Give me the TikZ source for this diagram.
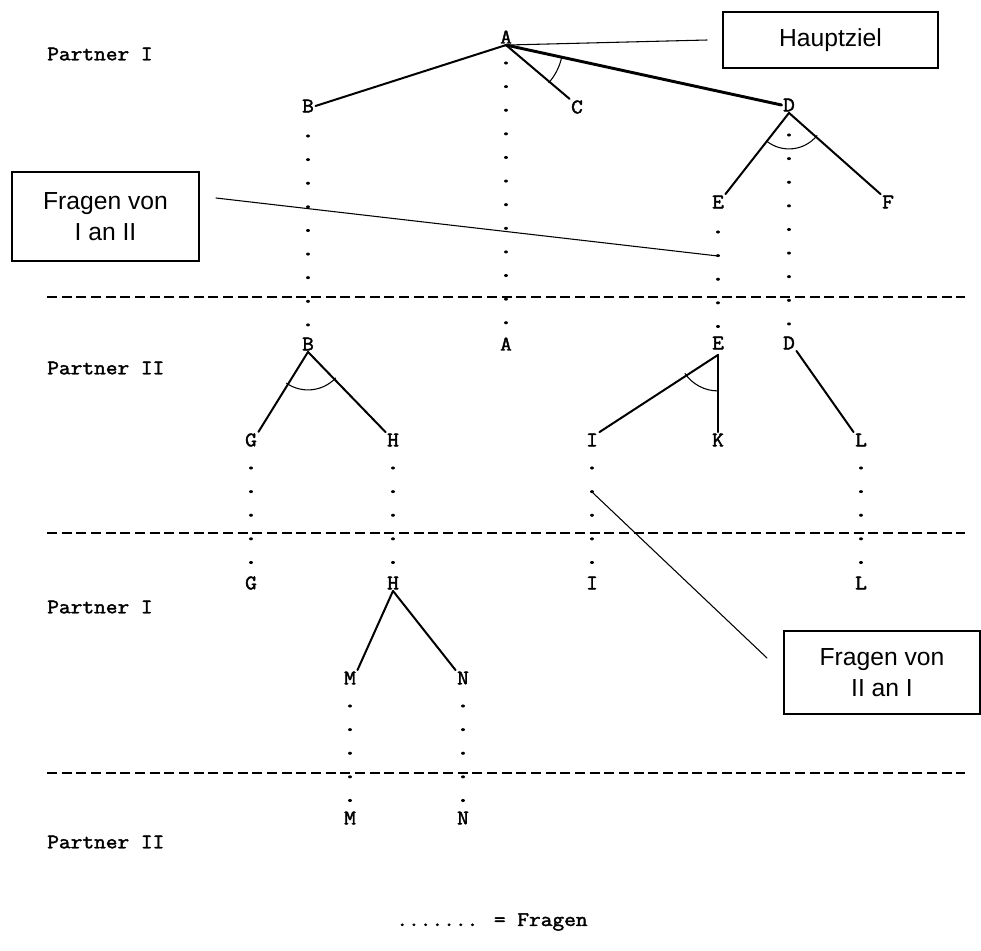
\documentclass[tikz,border=0pt]{standalone}
\usepackage{fontspec}
\setmainfont{Liberation Sans}
\newfontfamily\schreib[FakeStretch=1.1,FakeBold=2]{Latin Modern Mono}
\begin{document}
\begin{tikzpicture}[x=0.75pt,y=-0.75pt,line cap=round,
  buchst/.style={font=\schreib\fontsize{15.5}{15.5}\selectfont,inner sep=1pt},
  partner/.style={font=\schreib\fontsize{15.5}{15.5}\selectfont,anchor=west,inner sep=0pt},
  ast/.style={line width=1.5pt},
  hauptast/.style={line width=2.2pt},
  bogen/.style={line width=0.8pt},
  fragen/.style={line width=2.3pt,dash pattern=on 0.01pt off 17.7pt},
  ebene/.style={line width=1.1pt,line cap=butt,dash pattern=on 7.5pt off 3.5pt},
  kasten/.style={draw,line width=1.1pt,font=\fontsize{18.5}{23}\selectfont,align=center,inner sep=0pt},
  zeiger/.style={line width=0.8pt}]
\useasboundingbox (0,0) rectangle (981,950);
%\draw[step=50,very thin,color=gray] (0,0) grid (981,950);
% Ebenen
\node[partner] (p1) at (47,54) {Partner I};
\node[partner] (p2) at (47,368) {Partner II};
\node[partner] (p3) at (47,607) {Partner I};
\node[partner] (p4) at (47,842) {Partner II};
\draw[ebene] (47,297) -- (965,297);
\draw[ebene] (47,533) -- (965,533);
\draw[ebene] (47,773) -- (965,773);
% Partner I
\node[buchst] (A1) at (506,37) {A};
\node[buchst] (B1) at (308,106) {B};
\node[buchst] (C1) at (577,107) {C};
\node[buchst] (D1) at (789,105) {D};
\node[buchst] (E1) at (718,202) {E};
\node[buchst] (F1) at (888,202) {F};
\draw[ast] (A1.south) -- (B1.east);
\draw[ast] (A1.south) -- (C1.north west);
\draw[hauptast] (A1.south) -- (D1.west);
\draw[bogen] ([shift={(11.7:57)}]A1.south) arc (11.7:41.5:57);
\draw[ast] (D1.south) -- (E1.north east);
\draw[ast] (D1.south) -- (F1.north west);
\draw[bogen] ([shift={(39:36)}]D1.south) arc (39:129:36);
% Partner II
\node[buchst] (B2) at (308,344) {B};
\node[buchst] (A2) at (506,344) {A};
\node[buchst] (E2) at (718,343) {E};
\node[buchst] (D2) at (789,343) {D};
\node[buchst] (G2) at (251,440) {G};
\node[buchst] (H2) at (393,440) {H};
\node[buchst] (I2) at (592,440) {I};
\node[buchst] (K2) at (718,440) {K};
\node[buchst] (L2) at (861,440) {L};
\draw[ast] (B2.south) -- (G2.north east);
\draw[ast] (B2.south) -- (H2.north west);
\draw[bogen] ([shift={(43.5:38)}]B2.south) arc (43.5:124.6:38);
\draw[ast] ([yshift=-3]E2.south) -- (I2.north east);
\draw[ast] ([yshift=-3]E2.south) -- (K2.north);
\draw[bogen] ([shift={(90:40)}]E2.south) arc (90:145.6:40);
\draw[ast] (D2.south east) -- (L2.north west);
% Partner I
\node[buchst] (G3) at (251,583) {G};
\node[buchst] (H3) at (393,583) {H};
\node[buchst] (I3) at (592,583) {I};
\node[buchst] (L3) at (861,583) {L};
\node[buchst] (M3) at (350,678) {M};
\node[buchst] (N3) at (463,678) {N};
\draw[ast] (H3.south) -- (M3.north east);
\draw[ast] (H3.south) -- (N3.north west);
% Partner II
\node[buchst] (M4) at (350,818) {M};
\node[buchst] (N4) at (463,818) {N};
% Fragen
\draw[fragen,shorten <=19.5pt,shorten >=12pt] (A1.center) -- (A2.center);
\draw[fragen,shorten <=22.5pt,shorten >=12pt] (B1.center) -- (B2.center);
\draw[fragen,shorten <=22.5pt,shorten >=12pt] (D1.center) -- (D2.center);
\draw[fragen,shorten <=22.5pt,shorten >=12pt] (E1.center) -- (E2.center);
\draw[fragen,shorten <=21pt,shorten >=12pt] (G2.center) -- (G3.center);
\draw[fragen,shorten <=21pt,shorten >=12pt] (H2.center) -- (H3.center);
\draw[fragen,shorten <=21pt,shorten >=12pt] (I2.center) -- (I3.center);
\draw[fragen,shorten <=21pt,shorten >=12pt] (L2.center) -- (L3.center);
\draw[fragen,shorten <=21pt,shorten >=12pt] (M3.center) -- (M4.center);
\draw[fragen,shorten <=21pt,shorten >=12pt] (N3.center) -- (N4.center);
% Kaesten
\node[kasten,minimum width=161pt,minimum height=42pt] (ziel) at (830.5,40) {Hauptziel};
\node[kasten,minimum width=140pt,minimum height=67pt] (frI) at (105.5,216.5) {Fragen von\\I an II};
\node[kasten,minimum width=147pt,minimum height=62pt] (frII) at (882,672.5) {Fragen von\\II an I};
\coordinate (hz) at (707,40);
\coordinate (fz1) at (216,198);
\coordinate (fz2) at (767,658);
\coordinate (fE) at ([shift={(0,54)}]E1.center);
\coordinate (fI) at ([shift={(0,52)}]I2.center);
\draw[zeiger] (A1.south) -- (hz);
\draw[zeiger] (fz1) -- (fE);
\draw[zeiger] (fI) -- (fz2);
% Legende
\node[buchst] (leg) at (492,922) {....... = Fragen};
\end{tikzpicture}
\end{document}
